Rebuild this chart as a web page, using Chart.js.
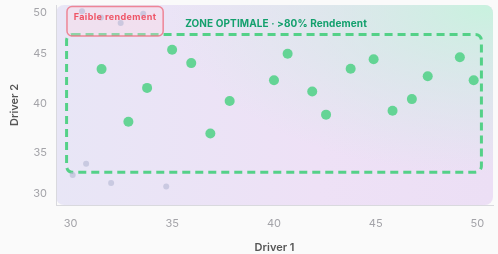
<!DOCTYPE html>
<html lang="fr">
<head>
<meta charset="utf-8">
<title>Driver 1 / Driver 2</title>
<script src="https://cdn.jsdelivr.net/npm/chart.js@4/dist/chart.umd.min.js"></script>
<style>
  html, body { margin: 0; padding: 0; background: #fafafa; }
  #wrap { width: 498px; height: 254px; position: relative; }
</style>
</head>
<body>
<div id="wrap"><canvas id="chart"></canvas></div>
<script>
// points dans la zone optimale
const optX = [31.52, 34.99, 35.93, 33.76, 37.82, 32.84, 36.87, 40.67, 40.0, 41.88, 42.56, 43.77, 44.9, 45.83, 46.78, 47.56, 49.14, 49.82];
const optY = [43.48, 45.44, 44.09, 41.57, 40.23, 38.12, 36.94, 45.04, 42.35, 41.21, 38.85, 43.52, 44.49, 39.25, 40.43, 42.75, 44.69, 42.35];

// points hors zone (faible rendement)
const lowX = [30.56, 31.49, 32.46, 33.57, 30.1, 30.76, 31.99, 34.7];
const lowY = [49.37, 48.72, 48.16, 49.12, 32.71, 33.86, 31.9, 31.54];

const xTicks = [30, 35, 40, 45, 50];
const yTicks = [30, 35, 40, 45, 50];

// bornes des zones, en unités des axes
const zoneX = [29.8, 50.2];
const zoneY = [33, 47];
const faibleX = [29.82, 34.55];
const faibleY = [46.85, 49.85];

const zoneLabel = 'ZONE OPTIMALE · >80% Rendement';
const faibleLabel = 'Faible rendement';

const toPoints = (xs, ys) => xs.map((x, i) => ({ x: x, y: ys[i] }));

const roundRect = (ctx, x, y, w, h, r) => {
    ctx.beginPath();
    ctx.roundRect(x, y, w, h, r);
};

const fondPlugin = {
    id: 'fond',
    beforeDraw(chart) {
        const { ctx, chartArea: a } = chart;
        ctx.save();
        const lin = ctx.createLinearGradient(a.left, a.bottom, a.right, a.bottom);
        lin.addColorStop(0, '#e8e6f6');
        lin.addColorStop(0.6, '#eee1f6');
        lin.addColorStop(1, '#ecdff5');
        roundRect(ctx, a.left, a.top, a.right - a.left, a.bottom - a.top, 8);
        ctx.fillStyle = lin;
        ctx.fill();
        // voile vert en haut à droite
        ctx.clip();
        ctx.translate(a.right, a.top);
        ctx.scale(1.9, 1);
        const rad = ctx.createRadialGradient(0, 0, 0, 0, 0, 170);
        rad.addColorStop(0, 'rgba(200, 242, 222, 1)');
        rad.addColorStop(0.5, 'rgba(208, 236, 228, 0.55)');
        rad.addColorStop(1, 'rgba(210, 235, 230, 0)');
        ctx.fillStyle = rad;
        ctx.fillRect(-400, -10, 420, 220);
        ctx.restore();
    }
};

const zonesPlugin = {
    id: 'zones',
    beforeDatasetsDraw(chart) {
        const { ctx, scales: { x, y } } = chart;
        ctx.save();
        // zone optimale
        const zl = x.getPixelForValue(zoneX[0]), zr = x.getPixelForValue(zoneX[1]);
        const zt = y.getPixelForValue(zoneY[1]), zb = y.getPixelForValue(zoneY[0]);
        roundRect(ctx, zl, zt, zr - zl, zb - zt, 6);
        ctx.setLineDash([8, 5]);
        ctx.lineWidth = 3;
        ctx.strokeStyle = 'rgba(76, 208, 130, 0.95)';
        ctx.stroke();
        // faible rendement
        const fl = x.getPixelForValue(faibleX[0]), fr = x.getPixelForValue(faibleX[1]);
        const ft = y.getPixelForValue(faibleY[1]), fb = y.getPixelForValue(faibleY[0]);
        ctx.setLineDash([]);
        roundRect(ctx, fl, ft, fr - fl, fb - ft, 5);
        ctx.fillStyle = 'rgba(255, 215, 225, 0.35)';
        ctx.fill();
        ctx.lineWidth = 1.5;
        ctx.strokeStyle = 'rgba(238, 110, 128, 0.8)';
        ctx.stroke();
        ctx.restore();
    },
    afterDatasetsDraw(chart) {
        const { ctx, scales: { x, y } } = chart;
        ctx.save();
        ctx.textAlign = 'center';
        ctx.textBaseline = 'middle';
        ctx.font = '700 10px Inter, "DejaVu Sans", sans-serif';
        ctx.letterSpacing = '0.1px';
        ctx.fillStyle = '#13a06d';
        ctx.fillText(zoneLabel, x.getPixelForValue(40.1), y.getPixelForValue(48.1));
        ctx.font = '700 9px Inter, "DejaVu Sans", sans-serif';
        ctx.letterSpacing = '0.4px';
        ctx.fillStyle = '#ef5466';
        ctx.fillText(faibleLabel, x.getPixelForValue((faibleX[0] + faibleX[1]) / 2), y.getPixelForValue(48.72));
        ctx.restore();
    }
};

const tickFont = { family: 'Inter, "DejaVu Sans", sans-serif', size: 11, lineHeight: 1.4 };
const titleFont = { family: 'Inter, "DejaVu Sans", sans-serif', size: 11, weight: '600' };

new Chart(document.getElementById('chart'), {
    type: 'scatter',
    data: {
        datasets: [
            {
                label: 'Zone optimale',
                data: toPoints(optX, optY),
                pointRadius: 5,
                pointHoverRadius: 5,
                backgroundColor: 'rgba(82, 210, 136, 0.88)',
                borderWidth: 0
            },
            {
                label: faibleLabel,
                data: toPoints(lowX, lowY),
                pointRadius: 3,
                pointHoverRadius: 3,
                backgroundColor: 'rgba(180, 184, 212, 0.6)',
                borderWidth: 0
            }
        ]
    },
    options: {
        responsive: true,
        maintainAspectRatio: false,
        animation: false,
        layout: { padding: { top: 4, right: 5, bottom: 0, left: 0 } },
        plugins: {
            legend: { display: false },
            tooltip: { enabled: false }
        },
        scales: {
            x: {
                type: 'linear',
                min: 29.28,
                max: 50.77,
                afterBuildTicks: s => { s.ticks = xTicks.map(v => ({ value: v })); },
                afterFit: s => { s.height = 49; s.paddingLeft = 0; s.paddingRight = 0; },
                grid: { display: false, drawTicks: false },
                border: { display: true, color: '#d9d9de', width: 1 },
                ticks: { padding: 11, color: '#a3a3a8', font: tickFont },
                title: { display: true, text: 'Driver 1', color: '#555', font: titleFont, padding: { top: 0, bottom: 0 } }
            },
            y: {
                type: 'linear',
                min: 29.66,
                max: 50,
                afterBuildTicks: s => { s.ticks = yTicks.map(v => ({ value: v })); },
                afterFit: s => { s.width = 56; s.paddingTop = 0; s.paddingBottom = 0; },
                grid: { display: false, drawTicks: false },
                border: { display: true, color: '#d9d9de', width: 1 },
                ticks: {
                    padding: 9,
                    color: '#a3a3a8',
                    font: tickFont,
                    // les libellés extrêmes restent à l'intérieur de la zone
                    callback: v => v === 50 ? ['', '50'] : v === 30 ? ['30', ''] : String(v)
                },
                title: { display: true, text: 'Driver 2', color: '#555', font: titleFont, padding: { top: 8, bottom: 0 } }
            }
        }
    },
    plugins: [fondPlugin, zonesPlugin]
});
</script>
</body>
</html>
